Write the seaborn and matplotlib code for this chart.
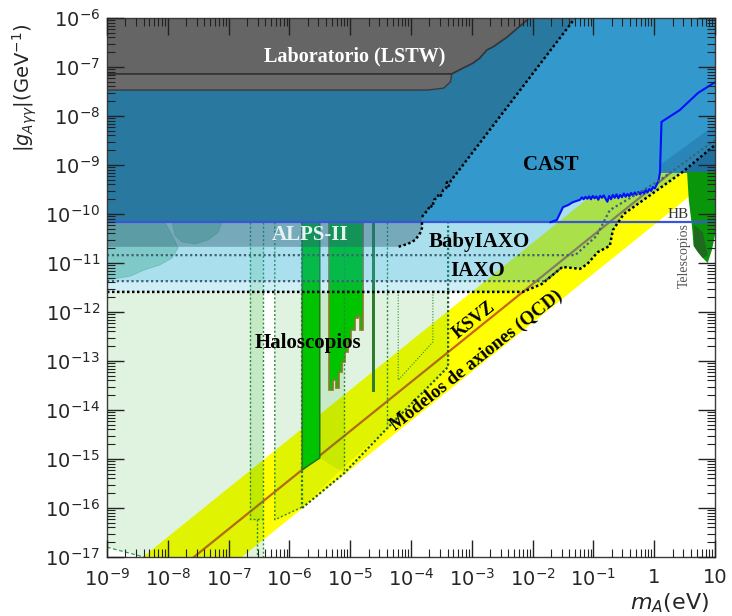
import numpy as np
import pandas as pd
import matplotlib
matplotlib.use("Agg")
import matplotlib.pyplot as plt
import matplotlib.ticker as mticker
import seaborn as sns

# ---------------- data : log10(m_A / eV) and log10(|g| / GeV^-1) ----------------
x_decades = list(range(-9, 2))
x_tick_labels = [r"$10^{-9}$", r"$10^{-8}$", r"$10^{-7}$", r"$10^{-6}$", r"$10^{-5}$",
                 r"$10^{-4}$", r"$10^{-3}$", r"$10^{-2}$", r"$10^{-1}$", "1", "10"]
y_decades = list(range(-17, -5))
y_tick_labels = [r"$10^{%d}$" % d for d in y_decades]

# QCD axion band and KSVZ line
qcd_logm = [-10.0, 2.0]
qcd_low_logg = [-20.22, -8.22]
qcd_high_logg = [-18.59, -6.59]
ksvz_logm = [-10.0, 2.0]
ksvz_logg = [-19.43, -7.43]

# Horizontal-branch bound
hb_logm = [-9.0, 1.0]
hb_logg = [-10.17, -10.17]

# Laboratory (LSTW)
lab_up_logm = [-9, -2.05, -2.09, -2.42, -2.65, -2.75, -2.87, -2.98, -3.14, -3.33, -9]
lab_up_logg = [-6, -6, -6.04, -6.39, -6.59, -6.65, -6.82, -6.92, -7.02, -7.14, -7.14]
lab_low_logm = [-9, -3.33, -3.35, -3.46, -3.72, -9]
lab_low_logg = [-7.14, -7.14, -7.30, -7.43, -7.47, -7.47]

# older helioscope region (dark blue) and its dotted border
dark_logm = [-9, -3.82, -3.82, -3.77, -3.72, -3.69, -3.65, -3.62, -3.57, -3.54, -3.51,
             -3.47, -3.42, -3.41, -3.38, -3.34, -3.28, -1.30, -9]
dark_logg = [-10.17, -10.17, -10.06, -9.98, -9.92, -9.82, -9.86, -9.71, -9.67, -9.59, -9.63,
             -9.51, -9.47, -9.35, -9.43, -9.31, -9.22, -6.0, -6.0]

# ALPS-II
alps_logm = [-9, -3.82, -3.82, -3.85, -3.93, -4.05, -4.21, -9]
alps_logg = [-10.17, -10.17, -10.29, -10.39, -10.53, -10.61, -10.67, -10.67]

# CAST limit (lower edge)
cast_logm = [-3.82, -1.71, -1.60, -1.50, -1.42, -1.34, -1.22,
             -1.19, -1.16, -1.13, -1.10, -1.07, -1.04, -1.01, -0.98, -0.95, -0.92,
             -0.89, -0.86, -0.83, -0.80, -0.77, -0.74, -0.71, -0.68, -0.65, -0.62,
             -0.59, -0.56, -0.53, -0.50, -0.47, -0.44, -0.41, -0.38, -0.35, -0.32,
             -0.29, -0.26, -0.23, -0.20, -0.17, -0.14, -0.11, -0.08, -0.05, -0.02,
             0.01, 0.04, 0.07, 0.095,
             0.12, 0.42, 0.72, 1.0]
cast_logg = [-10.17, -10.17, -10.12, -9.86, -9.82, -9.76, -9.71,
             -9.66, -9.70, -9.65, -9.69, -9.64, -9.70, -9.63, -9.68, -9.64, -9.71,
             -9.63, -9.67, -9.62, -9.69, -9.75, -9.63, -9.70, -9.61, -9.67, -9.60,
             -9.68, -9.61, -9.66, -9.58, -9.65, -9.59, -9.64, -9.57, -9.63, -9.56,
             -9.61, -9.55, -9.60, -9.53, -9.58, -9.51, -9.56, -9.49, -9.53, -9.45,
             -9.48, -9.40, -9.33, -9.16,
             -8.12, -7.88, -7.53, -7.31]
cast_mid_logm = [0.095, 1.0, 1.0, 0.47, 0.095]
cast_mid_logg = [-9.0, -8.18, -8.59, -9.16, -9.16]
cast_deep_logm = [0.47, 1.0, 1.0]
cast_deep_logg = [-9.16, -8.59, -9.16]

# BabyIAXO / IAXO prospects
babyiaxo_logm = [-9, -1.30, -0.95, -0.73, 0.095, 1.0]
babyiaxo_logg = [-10.84, -10.84, -10.45, -9.92, -9.31, -8.49]
iaxo_a_logm = [-9, -1.80, -1.51, -1.22, -1.10, -0.93, -0.73, -0.68, -0.50, 0.47, 1.0]
iaxo_a_logg = [-11.37, -11.37, -11.08, -11.12, -11.02, -10.78, -10.65, -10.33, -10.0, -9.14, -8.59]
iaxo_logm = [-9, -2.16, -1.85, -1.51, -1.22, -1.10, -0.93, -0.73, -0.68, -0.50, 0.47, 1.0]
iaxo_logg = [-11.59, -11.59, -11.43, -11.08, -11.12, -11.02, -10.78, -10.65, -10.33, -10.0, -9.14, -8.59]

# astrophysical blobs (left)
blob1_logm = [-9, -8.05, -7.93, -7.83, -7.93, -8.13, -8.38, -8.62, -8.92, -9]
blob1_logg = [-10.17, -10.17, -10.43, -10.69, -10.90, -11.04, -11.14, -11.27, -11.33, -11.33]
blob2_logm = [-7.93, -7.11, -7.17, -7.34, -7.55, -7.77, -7.88]
blob2_logg = [-10.17, -10.17, -10.37, -10.53, -10.61, -10.57, -10.43]

# Haloscope prospects (pale green)
halo1_logm = [-9, -6.43, -6.43, -8.39, -9]
halo1_logg = [-11.59, -11.59, -17.0, -17.0, -16.80]
halo2_logm = [-6.24, -3.39, -3.39, -4.39, -5.10, -5.79, -6.24]
halo2_logg = [-11.59, -11.59, -13.12, -14.37, -15.16, -15.98, -16.24]
strip1_logm = [-6.65, -6.43, -6.43, -6.65]
strip1_logg = [-10.67, -10.67, -16.22, -16.22]
strip2_logm = [-5.50, -5.10, -5.10, -5.50]
strip2_logg = [-11.59, -11.59, -15.29, -14.98]

# Haloscope exclusions (solid green)
admx_logm = [-5.79, -5.50, -5.50, -5.79]
admx_logg = [-9.0, -9.0, -14.98, -15.22]
stair_edges_logm = [-5.349, -5.283, -5.234, -5.184, -5.135, -5.086, -5.036, -4.987,
                    -4.921, -4.872, -4.839, -4.789]
stair_bottom_logg = [-13.59, -13.39, -13.55, -13.22, -13.02, -12.82, -12.61, -12.37,
                     -12.12, -12.08, -12.37]
thin_logm = [-4.64, -4.59, -4.59, -4.64]
thin_logg = [-9.0, -9.0, -13.63, -13.63]

# Telescopes
tele_logm = [0.54, 1.0, 1.0, 0.95, 0.88, 0.80, 0.72, 0.65, 0.62, 0.57]
tele_logg = [-9.14, -9.14, -10.43, -10.73, -11.0, -10.90, -10.78, -10.65, -10.24, -9.73]
tele2_logm = [0.65, 0.80, 0.88, 0.80, 0.72, 0.65]
tele2_logg = [-10.22, -10.37, -10.84, -10.90, -10.78, -10.65]

# ---------------- figure ----------------
sns.set_theme(style="ticks")
plt.rcParams["font.family"] = ["DejaVu Sans"]
plt.rcParams["mathtext.fontset"] = "dejavusans"

fig = plt.figure(figsize=(7.32, 6.16), dpi=100)
ax = fig.add_axes([107 / 732, 1 - 557 / 616, (715 - 107) / 732, (557 - 18) / 616])
ax.set_xscale("log")
ax.set_yscale("log")
ax.set_xlim(10.0 ** x_decades[0], 10.0 ** x_decades[-1])
ax.set_ylim(10.0 ** y_decades[0], 10.0 ** y_decades[-1])
ax.set_facecolor("white")


def P(a):
    return 10.0 ** np.asarray(a, dtype=float)


def fill(lm, lg, **kw):
    ax.fill(P(lm), P(lg), **kw)


def dline(lm, lg, **kw):
    ax.plot(P(lm), P(lg), **kw)


# QCD band
ax.fill_between(P(qcd_logm), P(qcd_low_logg), P(qcd_high_logg), color="#ffff00", lw=0, zorder=1)
sns.lineplot(x=P(ksvz_logm), y=P(ksvz_logg), ax=ax, color="#c8641e", lw=1.6, zorder=2,
             sort=False, estimator=None)

# haloscope prospects
halo_c = (0.0, 0.63, 0.0)
fill(halo1_logm, halo1_logg, color=halo_c, alpha=0.12, lw=0, zorder=3)
fill(halo2_logm, halo2_logg, color=halo_c, alpha=0.12, lw=0, zorder=3)
fill(strip1_logm, strip1_logg, color=halo_c, alpha=0.12, lw=0, zorder=3)
fill(strip2_logm, strip2_logg, color=halo_c, alpha=0.10, lw=0, zorder=3)

# haloscope exclusions
fill(admx_logm, admx_logg, color="#00c400", ec="#1d6b1d", lw=1, zorder=4)
sx, sy = [stair_edges_logm[0]], [-9.0]
for i, b in enumerate(stair_bottom_logg):
    sx += [stair_edges_logm[i], stair_edges_logm[i + 1]]
    sy += [b, b]
sx += [stair_edges_logm[-1]]
sy += [-9.0]
fill(sx, sy, color="#00c400", ec="#8a7a2a", lw=1.2, zorder=4)
fill(thin_logm, thin_logg, color="#2d7d2d", lw=0, zorder=4)

# dotted haloscope outlines
gd = dict(color="#2a8a3a", lw=1.0, ls=(0, (1.5, 1.5)), zorder=5)
dline([-6.65, -6.65, -6.43], [-10.17, -16.22, -16.22], **gd)
dline([-6.43, -6.43], [-10.17, -17.0], **gd)
dline([-6.53, -6.53], [-16.22, -17.0], **gd)
dline([-6.24, -6.24, -5.79], [-10.17, -16.24, -15.98], **gd)
dline([-5.79, -5.79], [-10.17, -16.0], lw=1.6, color="#2a7a2a", ls=(0, (1, 1)), zorder=5)
dline([-5.79, -5.10, -4.39, -3.39, -3.39], [-16.0, -15.29, -14.37, -13.12, -10.17],
      lw=1.6, color="#1f5f2a", ls=(0, (1, 1)), zorder=5)
dline([-5.10, -5.10], [-10.17, -15.29], **gd)
dline([-4.39, -4.39], [-10.17, -14.37], **gd)
dline([-4.21, -4.21, -3.64, -3.64], [-11.59, -13.39, -12.61, -11.59], color="#2a8a3a", lw=0.8,
      ls=(0, (1, 1.5)), zorder=5)
dline([-9.0, -8.39], [-16.80, -17.0], color="#3a9a4a", lw=0.9, ls=(0, (3, 2)), zorder=5)

# astrophysical blobs
fill(blob1_logm, blob1_logg, color=(0.25, 0.6, 0.35), alpha=0.35, ec=(0.3, 0.55, 0.4), lw=0.6, zorder=5)
fill(blob2_logm, blob2_logg, color=(0.25, 0.6, 0.35), alpha=0.35, ec=(0.3, 0.55, 0.4), lw=0.6, zorder=5)

# IAXO / BabyIAXO prospects
blue_c = (20 / 255, 170 / 255, 210 / 255)
fill(iaxo_logm + [1.0, -9.0], iaxo_logg + [-8.0, -8.0], color=blue_c, alpha=0.2, lw=0, zorder=6)
fill(iaxo_a_logm + [1.0, -9.0], iaxo_a_logg + [-8.0, -8.0], color=blue_c, alpha=0.2, lw=0, zorder=6)

# ALPS-II
fill(alps_logm, alps_logg, color=(40 / 255, 90 / 255, 110 / 255), alpha=0.4, lw=0, zorder=7)

# CAST and dark-blue region
n_fill = cast_logm.index(0.095) + 1
cast_poly_m = cast_logm[:n_fill] + [1.0, 1.0, -3.82]
cast_poly_g = cast_logg[:n_fill] + [-9.16, -6.0, -6.0]
fill(cast_poly_m, cast_poly_g, color="#3399cc", lw=0, zorder=8)
fill(cast_mid_logm, cast_mid_logg, color="#2a86b9", lw=0, zorder=8)
fill(cast_deep_logm, cast_deep_logg, color="#1e6e9e", lw=0, zorder=8)
fill(dark_logm, dark_logg, color="#2878a0", lw=0, zorder=8)

# laboratory
fill(lab_low_logm, lab_low_logg, color="#6a6a6a", ec="#3a3a3a", lw=1.0, zorder=9)
fill(lab_up_logm, lab_up_logg, color="#656565", ec="#333333", lw=1.2, zorder=9)

# telescopes
fill(tele_logm, tele_logg, color="#0a960a", lw=0, zorder=9)
fill(tele2_logm, tele2_logg, color="#1f6a1f", lw=0, zorder=9)

# lines
sns.lineplot(x=P(hb_logm), y=P(hb_logg), ax=ax, color="#3a55d8", lw=1.6, zorder=10,
             sort=False, estimator=None)
sns.lineplot(x=P(cast_logm[1:]), y=P(cast_logg[1:]), ax=ax, color="#0010ff", lw=1.5, zorder=10,
             sort=False, estimator=None)
bd = dict(color="black", lw=1.8, ls=(0, (1, 1)), zorder=11)
dline(dark_logm[2:18], dark_logg[2:18], **bd)
dline(alps_logm[1:7], alps_logg[1:7], **bd)
dline(iaxo_logm, iaxo_logg, **bd)
gb = dict(color="#3d6272", lw=1.6, ls=(0, (1, 1.2)), zorder=11)
dline(babyiaxo_logm, babyiaxo_logg, **gb)
dline(iaxo_a_logm[:3], iaxo_a_logg[:3], **gb)

# ---------------- texts ----------------
serif = ["Liberation Serif", "DejaVu Serif"]


def label(lm, lg, s, size=15, color="black", rot=0):
    ax.text(10.0 ** lm, 10.0 ** lg, s, family=serif, fontweight="bold", fontsize=size,
            color=color, ha="center", va="center", rotation=rot, rotation_mode="anchor",
            zorder=20)


label(-4.92, -6.78, "Laboratorio (LSTW)", size=14.5, color="white")
label(-1.70, -9.0, "CAST", size=15)
label(-5.66, -10.43, "ALPS-II", size=15, color="#e4f2f2")
label(-2.88, -10.57, "BabyIAXO", size=15)
label(-2.90, -11.16, "IAXO", size=15)
label(-5.69, -12.63, "Haloscopios", size=15)
label(-2.96, -12.16, "KSVZ", size=13, rot=38.5)
label(-2.93, -12.98, "Modelos de axiones (QCD)", size=13.5, rot=38.5)
ax.text(10.0 ** 0.39, 10.0 ** -10.02, "HB", family=serif, fontsize=11, color="#333333",
        ha="center", va="center", zorder=20)
ax.text(10.0 ** 0.50, 10.0 ** -10.85, "Telescopios", family=serif, fontsize=10, color="#555555",
        ha="center", va="center", rotation=90, zorder=20)

# ---------------- axes styling ----------------
ax.xaxis.set_major_locator(mticker.FixedLocator(P(x_decades)))
ax.xaxis.set_major_formatter(mticker.FixedFormatter(x_tick_labels))
ax.yaxis.set_major_locator(mticker.FixedLocator(P(y_decades)))
ax.yaxis.set_major_formatter(mticker.FixedFormatter(y_tick_labels))
ax.xaxis.set_minor_locator(mticker.LogLocator(base=10, subs=np.arange(2, 10), numticks=200))
ax.yaxis.set_minor_locator(mticker.LogLocator(base=10, subs=np.arange(2, 10), numticks=200))
ax.xaxis.set_minor_formatter(mticker.NullFormatter())
ax.yaxis.set_minor_formatter(mticker.NullFormatter())
ax.tick_params(which="both", direction="in", top=True, right=True, color="#222222")
ax.tick_params(which="major", length=12, width=1.0, labelsize=14)
ax.tick_params(which="minor", length=6, width=0.8)
ax.tick_params(axis="x", which="major", pad=8)
ax.tick_params(axis="y", which="major", pad=5)
ax.xaxis.set_zorder(30)
ax.yaxis.set_zorder(30)
for sp in ax.spines.values():
    sp.set_color("#3a3a3a")
    sp.set_linewidth(1.0)
    sp.set_zorder(30)

fig.text(25 / 732, 1 - 88 / 616, r"$|g_{A\gamma\gamma}|$(GeV$^{-1}$)", rotation=90,
         fontsize=14, ha="center", va="center")
fig.text(709 / 732, 1 - 603 / 616, r"$m_A$(eV)", fontsize=16, ha="right", va="center")

fig.savefig("out.png", dpi=100, facecolor="white")
